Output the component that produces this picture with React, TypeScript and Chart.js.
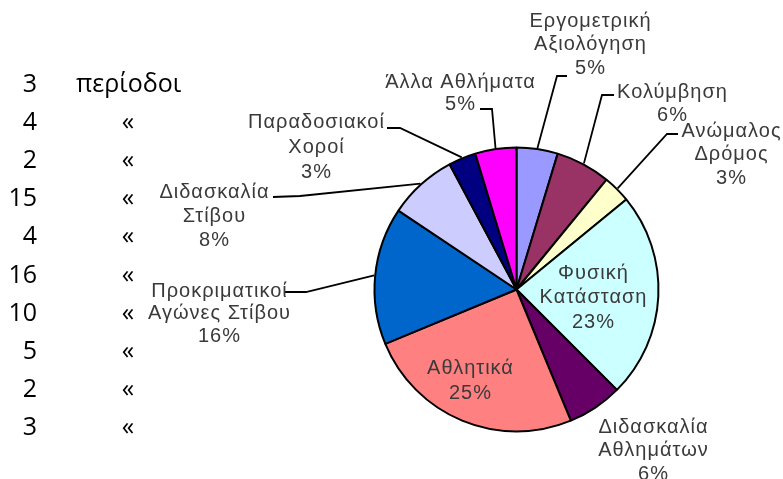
import React, { useEffect, useRef } from "react";
import { Chart, registerables } from "chart.js";

Chart.register(...registerables);

// ---- data ----
const categories: string[][] = [
  ["Εργομετρική", "Αξιολόγηση"],
  ["Κολύμβηση"],
  ["Ανώμαλος", "Δρόμος"],
  ["Φυσική", "Κατάσταση"],
  ["Διδασκαλία", "Αθλημάτων"],
  ["Αθλητικά"],
  ["Προκριματικοί", "Αγώνες Στίβου"],
  ["Διδασκαλία", "Στίβου"],
  ["Παραδοσιακοί", "Χοροί"],
  ["Άλλα Αθλήματα"],
];
const periods: number[] = [3, 4, 2, 15, 4, 16, 10, 5, 2, 3];
const unitLabel = "περίοδοι";
const dittoMark = "«";

// ---- styles ----
const sliceColors = [
  "#9999FF",
  "#993366",
  "#FFFFCC",
  "#CCFFFF",
  "#660066",
  "#FF8080",
  "#0066CC",
  "#CCCCFF",
  "#000080",
  "#FF00FF",
];

// label layout, offsets relative to the pie centre (pixels)
type LabelLayout = {
  dx: number;
  dy: number;
  lh: number;
  leader?: { ax: number; ay: number; bx: number; by: number };
};
const labelLayout: LabelLayout[] = [
  { dx: 73.5, dy: -268.5, lh: 23.5, leader: { ax: 50.5, ay: -213.5, bx: 40.5, by: -213.5 } },
  { dx: 155.5, dy: -197.5, lh: 23.5, leader: { ax: 97.5, ay: -194.5, bx: 85.5, by: -194.5 } },
  { dx: 214.5, dy: -158.5, lh: 23.5, leader: { ax: 161.5, ay: -155.5, bx: 150.5, by: -155.5 } },
  { dx: 76.5, dy: -16.5, lh: 24.5 },
  { dx: 136.5, dy: 137.5, lh: 23.5 },
  { dx: -46.5, dy: 78.5, lh: 25 },
  { dx: -297.5, dy: 1.5, lh: 22.5, leader: { ax: -232.5, ay: 2.5, bx: -210.5, by: 2.5 } },
  { dx: -302.5, dy: -97.5, lh: 24, leader: { ax: -243.5, ay: -92.5, bx: -216.5, by: -93.5 } },
  { dx: -200.5, dy: -167.5, lh: 25, leader: { ax: -129.5, ay: -161.5, bx: -116.5, by: -161.5 } },
  { dx: -56.5, dy: -207.5, lh: 22, leader: { ax: -36.5, ay: -180.5, bx: -24.5, by: -180.5 } },
];

const W = 783;
const H = 479;
const PIE_CX = 516.5;
const PIE_CY = 289.5;
const PIE_R = 142;

const sliceLabelPlugin = {
  id: "sliceLabels",
  afterDatasetsDraw(chart: any) {
    const ctx: CanvasRenderingContext2D = chart.ctx;
    const meta = chart.getDatasetMeta(0);
    const data: number[] = chart.data.datasets[0].data;
    const total = data.reduce((a, b) => a + b, 0);
    ctx.save();
    meta.data.forEach((arc: any, i: number) => {
      const p = arc.getProps(["x", "y", "startAngle", "endAngle", "outerRadius"], true);
      const lay = labelLayout[i];
      const pct = Math.round((data[i] / total) * 100) + "%";
      const lines = [...categories[i], pct];
      if (lay.leader) {
        const mid = (p.startAngle + p.endAngle) / 2;
        const ex = p.x + Math.cos(mid) * (p.outerRadius + 1);
        const ey = p.y + Math.sin(mid) * (p.outerRadius + 1);
        ctx.beginPath();
        ctx.strokeStyle = "#000";
        ctx.lineWidth = 1.8;
        ctx.moveTo(p.x + lay.leader.ax, p.y + lay.leader.ay);
        ctx.lineTo(p.x + lay.leader.bx, p.y + lay.leader.by);
        ctx.lineTo(ex, ey);
        ctx.stroke();
      }
      ctx.fillStyle = "#3a3a3a";
      ctx.font = '20px "Liberation Sans", Arial, sans-serif';
      (ctx as any).letterSpacing = "1px";
      ctx.textAlign = "center";
      ctx.textBaseline = "middle";
      lines.forEach((ln, k) => {
        ctx.fillText(ln, p.x + lay.dx + 0.5, p.y + lay.dy + k * lay.lh);
      });
    });
    ctx.restore();
  },
};

export default function App() {
  const canvasRef = useRef<HTMLCanvasElement | null>(null);

  useEffect(() => {
    if (!canvasRef.current) return;
    const half = 150;
    const chart = new Chart(canvasRef.current, {
      type: "pie",
      data: {
        labels: categories.map((c) => c.join(" ")),
        datasets: [
          {
            data: periods,
            backgroundColor: sliceColors,
            borderColor: "#000",
            borderWidth: 2,
            hoverOffset: 0,
            radius: PIE_R,
          } as any,
        ],
      },
      options: {
        responsive: false,
        animation: false,
        devicePixelRatio: 1,
        layout: {
          padding: {
            left: PIE_CX - half,
            right: W - (PIE_CX + half),
            top: PIE_CY - half,
            bottom: H - (PIE_CY + half),
          },
        },
        plugins: {
          legend: { display: false },
          tooltip: { enabled: false },
        },
      },
      plugins: [sliceLabelPlugin],
    });
    return () => chart.destroy();
  }, []);

  const rowTop = (i: number) => 82 + 38.1 * i - 19;

  return (
    <div
      style={{
        position: "fixed",
        left: 0,
        top: 0,
        width: W,
        height: H,
        background: "#fff",
        overflow: "hidden",
      }}
    >
      <canvas
        ref={canvasRef}
        width={W}
        height={H}
        style={{ position: "absolute", left: 0, top: 0, width: W, height: H }}
      />
      {periods.map((v, i) => (
        <React.Fragment key={i}>
          <div
            style={{
              position: "absolute",
              left: 0,
              width: 37,
              top: rowTop(i),
              height: 38,
              lineHeight: "38px",
              textAlign: "right",
              fontFamily: '"Open Sans", sans-serif',
              fontSize: 25,
              color: "#000",
            }}
          >
            {v}
          </div>
          <div
            style={{
              position: "absolute",
              left: i === 0 ? 76 : 98,
              width: i === 0 ? 140 : 60,
              top: rowTop(i),
              height: 38,
              lineHeight: "38px",
              textAlign: i === 0 ? "left" : "center",
              fontFamily: '"Open Sans", sans-serif',
              fontSize: 25,
              color: "#000",
              whiteSpace: "nowrap",
            }}
          >
            {i === 0 ? unitLabel : dittoMark}
          </div>
        </React.Fragment>
      ))}
    </div>
  );
}
